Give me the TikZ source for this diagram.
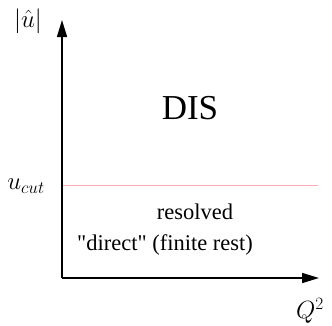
\documentclass[tikz,border=0pt]{standalone}
\usepackage{fontspec}
\setmainfont{Liberation Serif}[Ligatures=TeXOff]
\usetikzlibrary{arrows.meta}
\definecolor{cutpink}{RGB}{255,172,182}
\begin{document}
\begin{tikzpicture}[x=1pt,y=-1pt,
  axis/.style={line width=1.5pt,-{Triangle[length=17pt,width=10pt]}},
  cutline/.style={line width=1.4pt,color=cutpink},
  lbl/.style={inner sep=0pt,font=\fontsize{22.5}{26}\selectfont}]
\useasboundingbox (0,0) rectangle (332,325);
\coordinate (o) at (62,278);
\coordinate (ytop) at (62,20);
\coordinate (xend) at (319,278);
\coordinate (cl) at (62,185.7);
\coordinate (cr) at (318,185.7);
\draw[cutline] (cl) -- (cr);
\draw[axis] (o) -- (ytop);
\draw[axis] (o) -- (xend);
\node[lbl,font=\fontsize{25}{30}\selectfont] (uhat) at (28,21) {$\bigl|\hat{u}\bigr|$};
\node[lbl,font=\fontsize{23}{28}\selectfont] (ucut) at (26,186) {$u_{cut}$};
\node[lbl,font=\fontsize{26}{30}\selectfont] (q2) at (310,311) {$Q^2$};
\node[lbl,font=\fontsize{35}{40}\selectfont] (dis) at (190,108) {DIS};
\node[lbl] (res) at (195,212) {resolved};
\node[lbl] (dir) at (165,245) {"direct" (finite rest)};
\end{tikzpicture}
\end{document}
